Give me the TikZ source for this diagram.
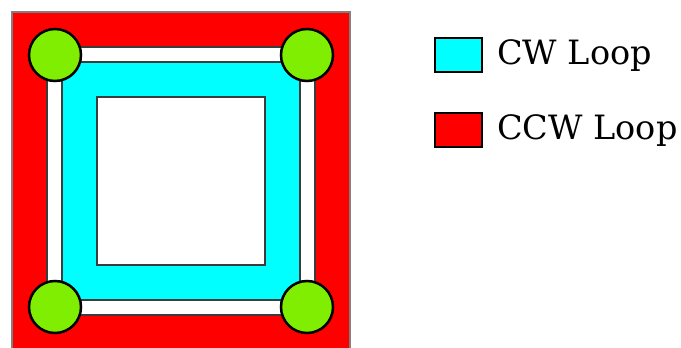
\documentclass[tikz,border=0pt]{standalone}
\usepackage{fontspec}
\setmainfont{DejaVu Serif}
\definecolor{cwcol}{RGB}{0,255,255}
\definecolor{ccwcol}{RGB}{255,0,0}
\definecolor{nodegreen}{RGB}{128,238,0}
\definecolor{edgegray}{RGB}{60,60,60}
\begin{document}
\begin{tikzpicture}[x=1pt,y=-1pt,
  ring/.style={draw=edgegray,line width=2pt},
  corner/.style={circle,draw=black,line width=2.5pt,fill=nodegreen,minimum size=52pt,inner sep=0pt},
  legbox/.style={draw=black,line width=2.5pt,minimum width=47pt,minimum height=34pt,inner sep=0pt},
  legtext/.style={anchor=base west,inner sep=0pt,font=\fontsize{33.5}{38}\selectfont}]
\useasboundingbox (0,0) rectangle (681,348);
\fill[white] (0,0) rectangle (681,348);
% outer CCW loop
\draw[ring,fill=ccwcol,draw=gray] (12,12) rectangle (350,350);
% white track
\draw[ring,fill=white] (47,47) rectangle (315,315);
% CW loop
\draw[ring,fill=cwcol] (62,62) rectangle (300,300);
\draw[ring,fill=white] (97,97) rectangle (265,265);
% corner nodes
\node[corner] (tl) at (55,55) {};
\node[corner] (tr) at (307,55) {};
\node[corner] (bl) at (55,307) {};
\node[corner] (br) at (307,307) {};
% legend
\node[legbox,fill=cwcol] (cwbox) at (458.5,55) {};
\node[legbox,fill=ccwcol] (ccwbox) at (458.5,130) {};
\node[legtext] (cwtext) at (497,64) {CW Loop};
\node[legtext] (ccwtext) at (497,139) {CCW Loop};
\end{tikzpicture}
\end{document}
